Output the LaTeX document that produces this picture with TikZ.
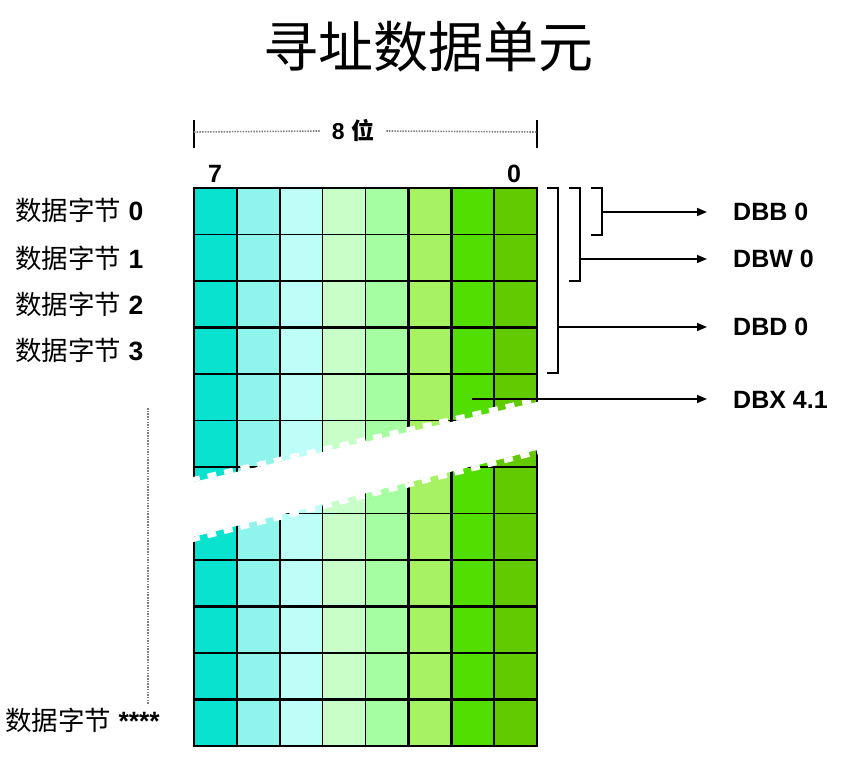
\documentclass[tikz,border=0pt]{standalone}
\usepackage{fontspec}
\setmainfont{Liberation Sans}
\newfontfamily\cjk{Noto Sans CJK SC}
\usetikzlibrary{arrows.meta}
\definecolor{bitA}{HTML}{0AE2D0}
\definecolor{bitB}{HTML}{8EF4EC}
\definecolor{bitC}{HTML}{BEFEF8}
\definecolor{bitD}{HTML}{C8FEC8}
\definecolor{bitE}{HTML}{A6FEA2}
\definecolor{bitF}{HTML}{A6F262}
\definecolor{bitG}{HTML}{52DE00}
\definecolor{bitH}{HTML}{62CA00}

\begin{document}
\begin{tikzpicture}[x=1pt,y=-1pt,>={Triangle[length=10pt,width=8pt]},
  lbl/.style={font=\fontsize{25}{25}\selectfont\bfseries, inner sep=2pt},
  bytelbl/.style={anchor=west, inner sep=0pt, font=\fontsize{26.5}{26.5}\selectfont},
  thin/.style={draw=black, line width=1.6pt},
  thick/.style={draw=black, line width=2.8pt},
  bracket/.style={draw=black, line width=1.6pt},
  arr/.style={->, line width=1.5pt, shorten >=24pt},
  dotline/.style={draw=gray, line width=1.6pt, dash pattern=on 1.5pt off 1.2pt},
  tooth/.style={draw=white, line width=5pt, dash pattern=on 9pt off 8pt}]
\useasboundingbox (0,0) rectangle (844,757);

\node[font=\cjk\fontsize{55}{55}\selectfont] (title) at (428,47) {寻址数据单元};

\foreach \c [count=\i from 0] in {bitA,bitB,bitC,bitD,bitE,bitF,bitG,bitH}
  \fill[\c] (194+42.875*\i,188) rectangle (236.875+42.875*\i,746);
\foreach \j in {1,2,5,7,8}
  \draw[thin] (194,188+46.5*\j) -- (537,188+46.5*\j);
\foreach \j in {3,4,6,9,10,11}
  \draw[thick] (194,188+46.5*\j) -- (537,188+46.5*\j);
\foreach \i in {1,2,3,4,7}
  \draw[thin] (194+42.875*\i,188) -- (194+42.875*\i,746);
\foreach \i in {5,6}
  \draw[thick] (194+42.875*\i,188) -- (194+42.875*\i,746);
\draw[thick] (194,188) rectangle (537,746);

\fill[white] (191,482.5) -- (540,401.3) -- (540,449.2) -- (191,537.5) -- cycle;
\draw[tooth] (191,480) -- (540,398.8);
\draw[tooth] (191,540) -- (540,451.7);

\node[lbl] (msb) at (215,174) {7};
\node[lbl] (lsb) at (514,174) {0};
\node[font=\fontsize{23}{23}\selectfont\bfseries, inner sep=12pt] (width) at (353,131) {8 {\cjk 位}};
\coordinate (wl) at (194,132);
\coordinate (wr) at (537,132);
\draw[thin] (194,120) -- (194,148);
\draw[thin] (537,120) -- (537,148);
\draw[dotline] (wl) -- (width.west);
\draw[dotline] (width.east) -- (wr);

\node[bytelbl] (byte0) at (15,210) {{\cjk 数据字节} \textbf{0}};
\node[bytelbl] (byte1) at (15,258) {{\cjk 数据字节} \textbf{1}};
\node[bytelbl] (byte2) at (15,304) {{\cjk 数据字节} \textbf{2}};
\node[bytelbl] (byte3) at (15,350) {{\cjk 数据字节} \textbf{3}};
\node[bytelbl] (byteN) at (5,720) {{\cjk 数据字节} \textbf{****}};
\coordinate (gapT) at (148,408);
\coordinate (gapB) at (148,705);
\draw[dotline] (gapT) -- (gapB);

\draw[bracket] (547,188) -| (558,373) -- (547,373);
\draw[bracket] (569,188) -| (580,281) -- (569,281);
\draw[bracket] (591,188) -| (602,235) -- (591,235);
\coordinate (dbbB) at (602,212);
\coordinate (dbwB) at (580,259);
\coordinate (dbdB) at (558,327);
\coordinate (bit41) at (472,399);

\node[lbl, anchor=west] (dbb) at (731,212) {DBB 0};
\node[lbl, anchor=west] (dbw) at (731,259) {DBW 0};
\node[lbl, anchor=west] (dbd) at (731,327) {DBD 0};
\node[lbl, anchor=west] (dbx) at (731,400) {DBX 4.1};
\draw[arr] (dbbB) -- (dbb.west);
\draw[arr] (dbwB) -- (dbw.west);
\draw[arr] (dbdB) -- (dbd.west);
\draw[arr] (bit41) -- (dbx.west |- bit41);
\end{tikzpicture}
\end{document}
